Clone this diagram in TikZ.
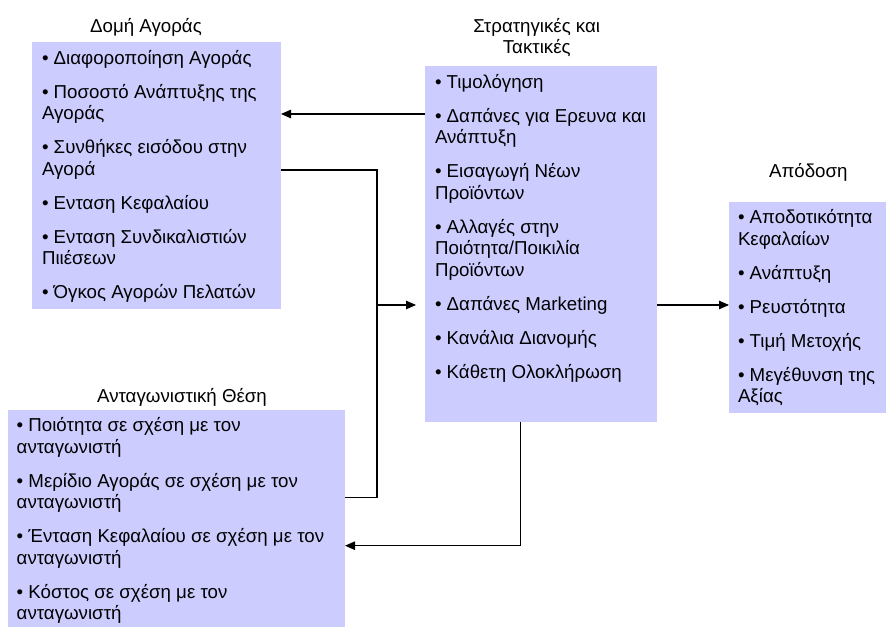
\documentclass[tikz,border=0pt]{standalone}
\usepackage{fontspec}
\setmainfont{Liberation Sans}
\usetikzlibrary{arrows.meta}
\definecolor{boxfill}{RGB}{204,204,255}
\tikzset{
  panel/.style={fill=boxfill, draw=none, inner sep=0pt, outer sep=0pt, anchor=north west},
  txt/.style={inner sep=0pt, outer sep=0pt, align=left, anchor=north west, font=\fontsize{18.7}{21.5}\selectfont},
  ttl/.style={inner sep=0pt, outer sep=0pt, align=center, anchor=north, font=\fontsize{18.7}{21.5}\selectfont},
  conn/.style={line width=1.1pt, draw=black},
  arr/.style={conn, -{Triangle[length=10pt,width=8.5pt]}}
}
\begin{document}
\begin{tikzpicture}[x=1pt,y=-1pt]
\useasboundingbox (0,0) rectangle (887,628);
% panels
\node[panel, minimum width=249pt, minimum height=266.7pt] (m) at (32,42) {};
\node[panel, minimum width=232pt, minimum height=355.7pt] (s) at (425,66) {};
\node[panel, minimum width=157pt, minimum height=210.7pt] (p) at (729,202) {};
\node[panel, minimum width=337pt, minimum height=217pt] (c) at (8,410) {};
% titles
\node[ttl] (mtitle) at (146,17.3) {\strut Δομή Αγοράς};
\node[ttl] (stitle) at (536.7,17.3) {\strut Στρατηγικές και\\Τακτικές};
\node[ttl] (ptitle) at (808.3,162.3) {\strut Απόδοση};
\node[ttl] (ctitle) at (182,387.3) {\strut Ανταγωνιστική Θέση};
% texts
\node[txt] (mtext) at (42,49.3) {\strut • Διαφοροποίηση Αγοράς\\[12.5pt]
• Ποσοστό Ανάπτυξης της\\Αγοράς\\[12.5pt]
• Συνθήκες εισόδου στην\\Αγορά\\[12.5pt]
• Ενταση Κεφαλαίου\\[12.5pt]
• Ενταση Συνδικαλιστιών\\Πιιέσεων\\[12.5pt]
• Όγκος Αγορών Πελατών};
\node[txt] (stext) at (435,73.3) {\strut • Τιμολόγηση\\[12.5pt]
• Δαπάνες για Ερευνα και\\Ανάπτυξη\\[12.5pt]
• Εισαγωγή Νέων\\Προϊόντων\\[12.5pt]
• Αλλαγές στην\\Ποιότητα/Ποικιλία\\Προϊόντων\\[12.5pt]
• Δαπάνες Marketing\\[12.5pt]
• Κανάλια Διανομής\\[12.5pt]
• Κάθετη Ολοκλήρωση};
\node[txt] (ptext) at (738,208.8) {\strut • Αποδοτικότητα\\Κεφαλαίων\\[12.5pt]
• Ανάπτυξη\\[12.5pt]
• Ρευστότητα\\[12.5pt]
• Τιμή Μετοχής\\[12.5pt]
• Μεγέθυνση της\\Αξίας};
\node[txt] (ctext) at (16.7,416.8) {\strut • Ποιότητα σε σχέση με τον\\ανταγωνιστή\\[12.5pt]
• Μερίδιο Αγοράς σε σχέση με τον\\ανταγωνιστή\\[12.5pt]
• Ένταση Κεφαλαίου σε σχέση με τον\\ανταγωνιστή\\[12.5pt]
• Κόστος σε σχέση με τον\\ανταγωνιστή};
% connectors
\coordinate (j) at (377,305);
\draw[arr] (s.west |- 0,114) -- (m.east |- 0,114);
\draw[arr, shorten >=9pt] (m.east |- 0,170) -| (j) -- (s.west |- j);
\draw[conn] (c.east |- 0,497.7) -| (j);
\draw[arr] (s.south -| 520.7,0) |- (c.east |- 0,545.7);
\draw[arr] (s.east |- j) -- (p.west |- j);
\end{tikzpicture}
\end{document}
